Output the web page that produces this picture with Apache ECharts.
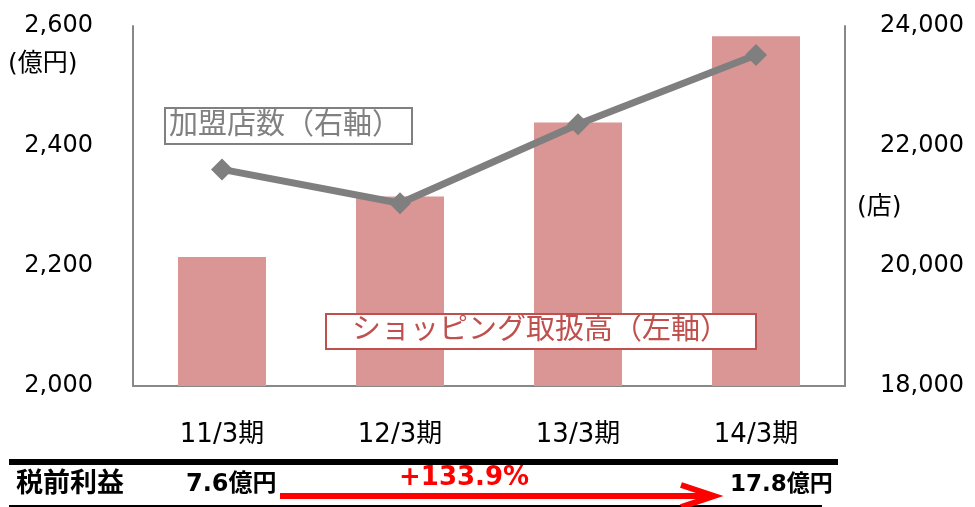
<!DOCTYPE html>
<html><head><meta charset="utf-8">
<script src="https://cdn.jsdelivr.net/npm/echarts@6/dist/echarts.min.js"></script>
<style>html,body{margin:0;padding:0;background:#fff;}#c{width:975px;height:507px;}</style>
</head><body><div id="c"></div>
<script>
var categories = ['11/3期', '12/3期', '13/3期', '14/3期'];
var shoppingVolume = [2215, 2316, 2439, 2583];      // 億円, left axis
var merchantCount = [21610, 21045, 22362, 23517];   // 店, right axis
var leftTicks = [2000, 2600, 200];
var rightTicks = [18000, 24000, 2000];

var FONT = "'DejaVu Sans', 'Noto Sans CJK JP', sans-serif";
function fmt(v){ return String(v).replace(/\B(?=(\d{3})+(?!\d))/g, ','); }

var chart = echarts.init(document.getElementById('c'));
chart.setOption({
  animation: false,
  grid: { left: 133, right: 130, top: 26, bottom: 121 },
  xAxis: {
    type: 'category', data: categories,
    axisLine: { lineStyle: { color: '#888', width: 2 } },
    axisTick: { show: false },
    axisLabel: { fontFamily: FONT, fontSize: 26, color: '#000', margin: 36 }
  },
  yAxis: [{
    type: 'value', min: leftTicks[0], max: leftTicks[1], interval: leftTicks[2],
    axisLine: { show: true, lineStyle: { color: '#888', width: 2 } },
    axisTick: { show: false }, splitLine: { show: false },
    axisLabel: { fontFamily: FONT, fontSize: 24, color: '#000', margin: 40, formatter: fmt }
  }, {
    type: 'value', min: rightTicks[0], max: rightTicks[1], interval: rightTicks[2],
    position: 'right',
    axisLine: { show: true, lineStyle: { color: '#888', width: 2 } },
    axisTick: { show: false }, splitLine: { show: false },
    axisLabel: { fontFamily: FONT, fontSize: 24, color: '#000', margin: 35, formatter: fmt }
  }],
  series: [{
    type: 'bar', data: shoppingVolume, yAxisIndex: 0, barWidth: 88,
    itemStyle: { color: '#d99694' }
  }, {
    type: 'line', data: merchantCount, yAxisIndex: 1,
    lineStyle: { color: '#7f7f7f', width: 7 },
    itemStyle: { color: '#7f7f7f' },
    symbol: 'diamond', symbolSize: 22, z: 5
  }],
  graphic: [
    { type: 'text', left: 8, top: 52, style: { text: '(億円)', font: '25px ' + FONT, fill: '#000' } },
    { type: 'text', left: 857, top: 195, style: { text: '(店)', font: '25px ' + FONT, fill: '#000' } },
    { type: 'rect', shape: { x: 165, y: 108, width: 247, height: 36 }, style: { fill: '#fff', stroke: '#808080', lineWidth: 2 }, z: 10 },
    { type: 'text', x: 169, y: 126, style: { text: '加盟店数（右軸）', font: '29px ' + FONT, fill: '#808080', textVerticalAlign: 'middle' }, z: 11 },
    { type: 'rect', shape: { x: 326, y: 314, width: 430, height: 35 }, style: { fill: '#fff', stroke: '#c0504d', lineWidth: 2 }, z: 10 },
    { type: 'text', x: 352, y: 331, style: { text: 'ショッピング取扱高（左軸）', font: '29px ' + FONT, fill: '#c0504d', textVerticalAlign: 'middle' }, z: 11 },
    { type: 'rect', shape: { x: 9, y: 459, width: 829, height: 6 }, style: { fill: '#000' } },
    { type: 'rect', shape: { x: 9, y: 505, width: 813, height: 2 }, style: { fill: '#000' } },
    { type: 'text', x: 16, y: 485, style: { text: '税前利益', font: 'bold 27px ' + FONT, fill: '#000', textVerticalAlign: 'middle' } },
    { type: 'text', x: 186, y: 485, style: { text: '7.6億円', font: 'bold 24px ' + FONT, fill: '#000', textVerticalAlign: 'middle' } },
    { type: 'text', x: 730, y: 485, style: { text: '17.8億円', font: 'bold 23px ' + FONT, fill: '#000', textVerticalAlign: 'middle' } },
    { type: 'text', x: 399, y: 478, style: { text: '+133.9%', font: 'bold 26px ' + FONT, fill: '#ff0000', textVerticalAlign: 'middle' } },
    { type: 'line', shape: { x1: 280, y1: 496, x2: 712, y2: 496 }, style: { stroke: '#ff0000', lineWidth: 6 } },
    { type: 'polyline', shape: { points: [[681, 485], [714, 496], [681, 507]] }, style: { stroke: '#ff0000', lineWidth: 6, fill: null } }
  ]
});
</script>
</body></html>
